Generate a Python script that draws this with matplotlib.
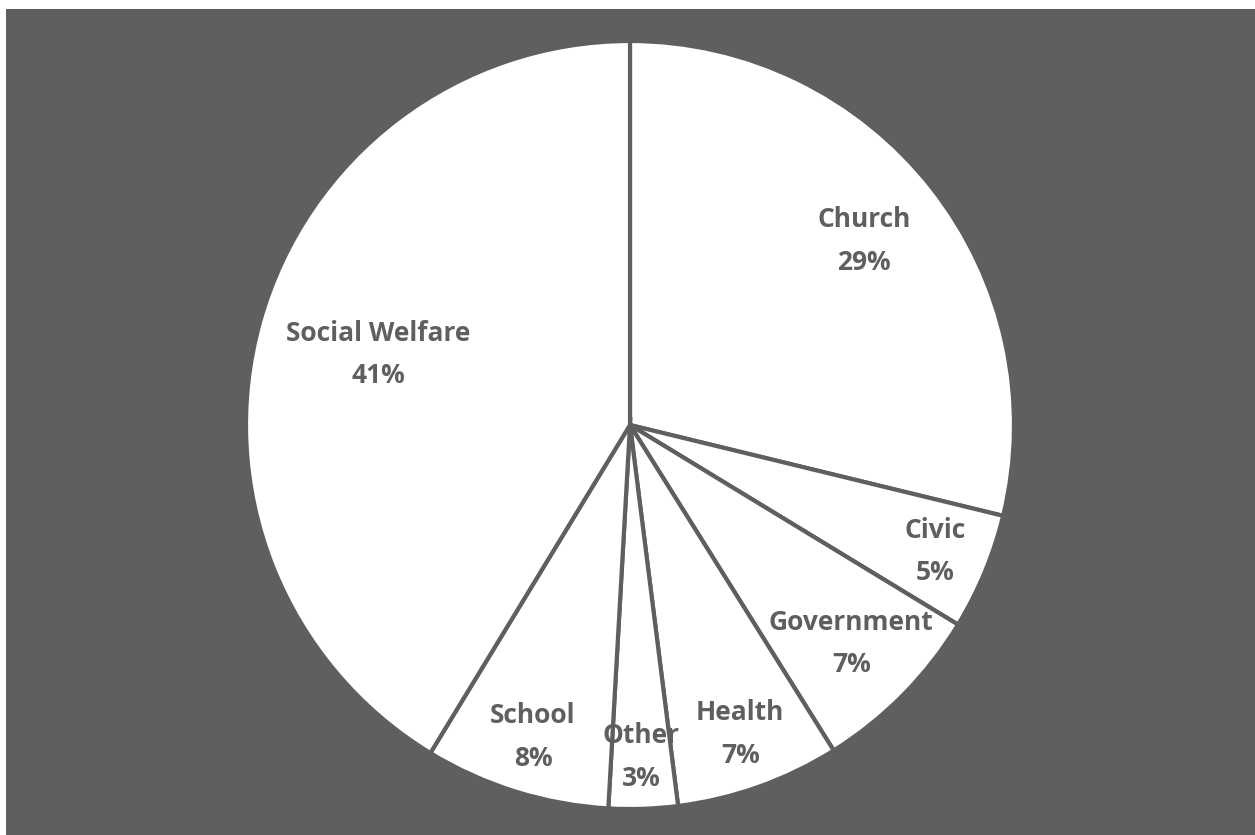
from matplotlib import pyplot
from matplotlib.patches import Rectangle
import numpy

# Data
categories = ["Church", "Civic", "Government", "Health", "Other", "School", "Social Welfare"]
shares = [28.8, 4.9, 7.4, 6.9, 2.9, 7.8, 41.3]

# Label distance from centre (fraction of radius), per slice
labelRadii = [0.775, 0.86, 0.81, 0.855, 0.865, 0.85, 0.68]

dark = "#5f5f5f"

figure = pyplot.figure(figsize=(12.55, 8.35), dpi=100)
figure.patch.set_facecolor("white")
figure.add_artist(Rectangle((6 / 1255, 0), 1, 826 / 835, transform=figure.transFigure,
                            facecolor=dark, edgecolor="none", zorder=0))

axis = figure.add_axes([246 / 1255, 26 / 835, 768 / 1255, 768 / 835])
axis.set_facecolor("none")

wedges, _ = axis.pie(shares, startangle=90, counterclock=False, radius=1,
                     wedgeprops=dict(facecolor="white", edgecolor=dark, linewidth=3))

for wedge, name, share, r in zip(wedges, categories, shares, labelRadii):
    theta = numpy.deg2rad((wedge.theta1 + wedge.theta2) / 2)
    axis.text(r * numpy.cos(theta), r * numpy.sin(theta), f"{name}\n{share:.0f}%",
              ha="center", va="center", color=dark, fontsize=19, fontweight="bold",
              family="Open Sans", linespacing=1.75)

axis.set_xlim(-1, 1)
axis.set_ylim(-1, 1)
axis.axis("off")

pyplot.savefig("out.png", dpi=100)
